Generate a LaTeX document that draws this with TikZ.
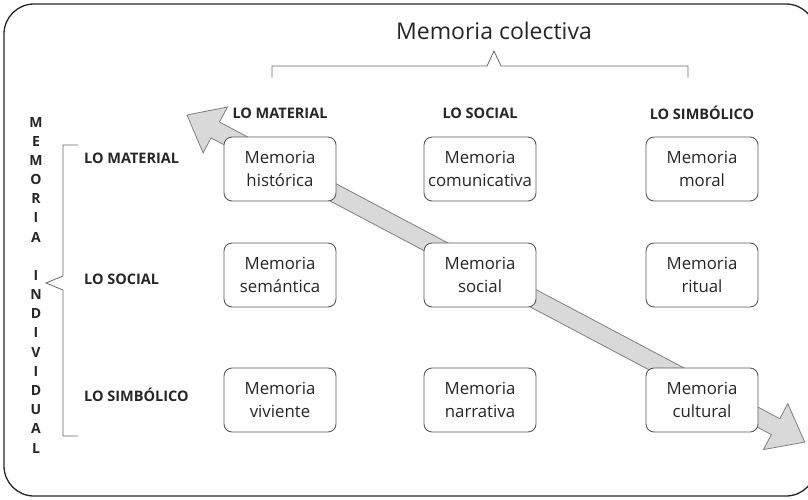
\documentclass[tikz,border=0pt]{standalone}
\usepackage{fontspec}
\setmainfont{Open Sans}
\definecolor{txt}{HTML}{262626}
\definecolor{arrfill}{HTML}{D9D9D9}
\definecolor{arrline}{HTML}{7F7F7F}
\begin{document}
\begin{tikzpicture}[x=1pt,y=-1pt,
  box/.style={draw=black!65, rounded corners=8pt, line width=0.9pt, fill=white,
    minimum width=112pt, minimum height=64pt, align=center, inner sep=0pt,
    font=\fontsize{16.8}{23}\selectfont, text=txt},
  hdr/.style={font=\bfseries\fontsize{14.5}{16}\selectfont, text=txt, inner sep=0pt},
  vl/.style={font=\bfseries\fontsize{14}{16}\selectfont, text=txt, inner sep=0pt},
  brk/.style={draw=black!60, line width=0.8pt},
  bigarrow/.style={fill=arrfill, draw=arrline, line width=0.8pt, line join=miter}]
\useasboundingbox (0,0) rectangle (808,499);
\draw[line width=1.3pt, rounded corners=30pt, black!85] (4,4) rectangle (816,496);

% title and top bracket
\node[font=\fontsize{23}{27}\selectfont, text=txt] (title) at (494,31) {Memoria colectiva};
\draw[brk] (272,77) -- (272,66) -- (487,66) -- (494,51) -- (501,66) -- (688,66) -- (688,77);

% left vertical label and bracket
\foreach \l [count=\i from 0] in {M,E,M,O,R,I,A,{},I,N,D,I,V,I,D,U,A,L}
  \node[vl] (v\i) at (36,{122+\i*19.18}) {\l};
\draw[brk] (78,145) -- (63,145) -- (63,276) -- (46,283) -- (63,290) -- (63,436) -- (78,436);

% headers
\node[hdr] (c1) at (280,113) {LO MATERIAL};
\node[hdr] (c2) at (480,113) {LO SOCIAL};
\node[hdr] (c3) at (702,113) {LO SIMBÓLICO};
\node[hdr, anchor=west] (r1) at (84,158) {LO MATERIAL};
\node[hdr, anchor=west] (r2) at (84,279) {LO SOCIAL};
\node[hdr, anchor=west] (r3) at (84,395) {LO SIMBÓLICO};

% diagonal double arrow
\coordinate (tipA) at (187,115);
\begin{scope}[shift={(tipA)}, rotate=-27.9]
  \draw[bigarrow] (0,0) -- (32,-26) -- (32,-9) -- (666,-9) -- (666,-26) -- (699,0)
    -- (666,26) -- (666,9) -- (32,9) -- (32,26) -- cycle;
\end{scope}

% boxes
\node[box] (n11) at (280,169) {Memoria\\histórica};
\node[box] (n12) at (480,169) {Memoria\\comunicativa};
\node[box] (n13) at (702,169) {Memoria\\moral};
\node[box] (n21) at (280,275) {Memoria\\semántica};
\node[box] (n22) at (480,275) {Memoria\\social};
\node[box] (n23) at (702,275) {Memoria\\ritual};
\node[box] (n31) at (280,400) {Memoria\\viviente};
\node[box] (n32) at (480,400) {Memoria\\narrativa};
\node[box] (n33) at (702,400) {Memoria\\cultural};
\end{tikzpicture}
\end{document}
